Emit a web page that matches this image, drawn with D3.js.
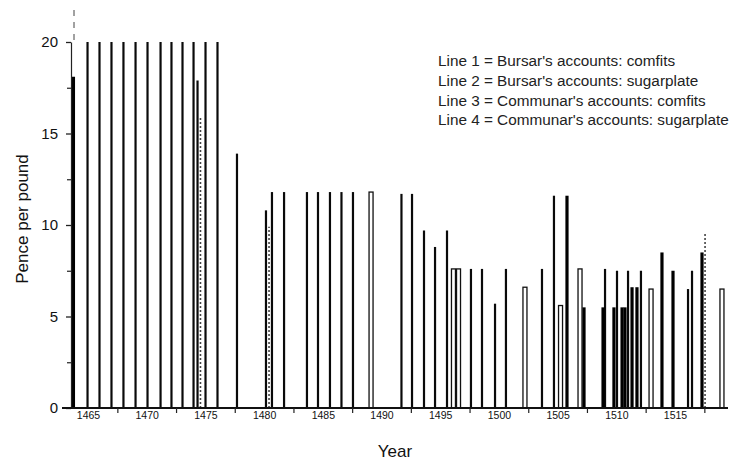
<!DOCTYPE html>
<html>
<head>
<meta charset="utf-8">
<script src="https://cdn.jsdelivr.net/npm/d3@7"></script>
<style>
  body { margin: 0; background: #fff; }
  svg { display: block; font-family: "Liberation Sans", Arial, Helvetica, sans-serif; }
</style>
</head>
<body>
<svg id="chart" width="732" height="460"></svg>
<script>
// ---- data (year, pence per pound) ----
const legendLabels = [
  "Line 1 = Bursar's accounts: comfits",
  "Line 2 = Bursar's accounts: sugarplate",
  "Line 3 = Communar's accounts: comfits",
  "Line 4 = Communar's accounts: sugarplate"
];
const xTickLabels = [1465, 1470, 1475, 1480, 1485, 1490, 1495, 1500, 1505, 1510, 1515];
const xMinorTicks = [1467.5, 1472.5, 1477.5, 1482.5, 1487.5, 1492.5, 1497.5, 1502.5, 1507.5, 1512.5, 1517.5];
const yTickValues = [0, 5, 10, 15, 20];
const yMinorTicks = [2.5, 7.5, 12.5, 17.5];

// Line 1: solid lines
const line1 = [
  [1464.96, 20], [1465.98, 20], [1467.0, 20], [1468.02, 20], [1469.05, 20],
  [1470.07, 20], [1471.18, 20], [1472.11, 20], [1473.05, 20], [1473.99, 20],
  [1475.01, 20], [1476.03, 20], [1474.33, 17.9], [1477.69, 13.9],
  [1480.16, 10.8], [1480.67, 11.8], [1481.7, 11.8], [1483.65, 11.8],
  [1484.59, 11.8], [1485.61, 11.8], [1486.59, 11.8], [1487.57, 11.8],
  [1491.7, 11.7], [1492.6, 11.7], [1493.62, 9.7], [1494.56, 8.8],
  [1495.58, 9.7], [1497.62, 7.6], [1498.56, 7.6], [1499.67, 5.7],
  [1500.6, 7.6], [1503.67, 7.6], [1504.69, 11.6], [1509.04, 7.6],
  [1510.06, 7.5], [1511.0, 7.5], [1512.1, 7.5], [1516.11, 6.5], [1516.45, 7.5]
];
// Line 2: dotted lines
const line2 = [
  [1474.58, 15.9], [1480.42, 9.9], [1517.56, 9.6]
];
// Line 3: outlined bars
const line3 = [
  [1489.11, 11.8], [1496.13, 7.6], [1496.56, 7.6], [1502.22, 6.6],
  [1505.25, 5.6], [1506.91, 7.6], [1512.96, 6.5], [1519.0, 6.5]
];
// Line 4: heavy lines
const line4 = [
  [1463.76, 18.1], [1505.8, 11.6], [1507.25, 5.5], [1508.87, 5.5], [1509.8, 5.5],
  [1510.49, 5.5], [1510.74, 5.5], [1511.34, 6.6], [1511.76, 6.6],
  [1513.89, 8.5], [1514.83, 7.5], [1517.3, 8.5]
];

// ---- scales ----
const svg = d3.select("#chart");
const x = d3.scaleLinear().domain([1465, 1515]).range([88, 675]);
const y = d3.scaleLinear().domain([0, 20]).range([408, 42]);
const x0 = 71;

// ---- spikes ----
const g = svg.append("g");
g.selectAll("line.l1").data(line1).join("line")
  .attr("x1", d => x(d[0])).attr("x2", d => x(d[0]))
  .attr("y1", y(0)).attr("y2", d => y(d[1]))
  .attr("stroke", "#0a0a0a").attr("stroke-width", 2.2);

g.selectAll("line.l2").data(line2).join("line")
  .attr("x1", d => x(d[0])).attr("x2", d => x(d[0]))
  .attr("y1", y(0)).attr("y2", d => y(d[1]))
  .attr("stroke", "#444").attr("stroke-width", 1.6)
  .attr("stroke-dasharray", "2,2");

g.selectAll("rect.l3").data(line3).join("rect")
  .attr("x", d => x(d[0]) - 2).attr("width", 4)
  .attr("y", d => y(d[1])).attr("height", d => y(0) - y(d[1]))
  .attr("fill", "#fff").attr("stroke", "#111").attr("stroke-width", 1.3);

g.selectAll("line.l4").data(line4).join("line")
  .attr("x1", d => x(d[0])).attr("x2", d => x(d[0]))
  .attr("y1", y(0)).attr("y2", d => y(d[1]))
  .attr("stroke", "#000").attr("stroke-width", 3.2);

// ---- y axis ----
const yAxis = d3.axisLeft(y).tickValues(yTickValues).tickSize(5).tickSizeOuter(0).tickPadding(8);
const ya = svg.append("g").attr("transform", `translate(${x0},0)`).call(yAxis);
ya.select(".domain").attr("stroke", "#222").attr("stroke-width", 1.2);
ya.selectAll(".tick line").attr("stroke", "#222").attr("stroke-width", 1.3);
ya.selectAll(".tick text").attr("font-size", 15).attr("fill", "#111")
  .attr("font-family", "Liberation Sans, Arial, sans-serif");
const yMinor = d3.axisLeft(y).tickValues(yMinorTicks).tickSize(4).tickFormat("");
const ym = svg.append("g").attr("transform", `translate(${x0},0)`).call(yMinor);
ym.select(".domain").remove();
ym.selectAll(".tick line").attr("stroke", "#222").attr("stroke-width", 1.2);
// dashed extension of the y axis above 20
svg.append("line").attr("x1", x0 + 3).attr("x2", x0 + 3)
  .attr("y1", y(20) - 2).attr("y2", 8)
  .attr("stroke", "#444").attr("stroke-width", 1).attr("stroke-dasharray", "6,6");

// ---- x axis ----
svg.append("line").attr("x1", 62).attr("x2", 728)
  .attr("y1", y(0)).attr("y2", y(0))
  .attr("stroke", "#111").attr("stroke-width", 1.8);
const xMinorAxis = d3.axisBottom(x).tickValues(xMinorTicks).tickSize(5).tickFormat("");
const xm = svg.append("g").attr("transform", `translate(0,${y(0)})`).call(xMinorAxis);
xm.select(".domain").remove();
xm.selectAll(".tick line").attr("stroke", "#222").attr("stroke-width", 1.2);
const xLabelAxis = d3.axisBottom(x).tickValues(xTickLabels).tickSize(0).tickPadding(4).tickFormat(d3.format("d"));
const xl = svg.append("g").attr("transform", `translate(0,${y(0)})`).call(xLabelAxis);
xl.select(".domain").remove();
xl.selectAll(".tick text").attr("font-size", 10.5).attr("fill", "#111")
  .attr("font-family", "Liberation Sans, Arial, sans-serif");

// ---- titles ----
svg.append("text").attr("x", 395).attr("y", 457).attr("text-anchor", "middle")
  .attr("font-size", 17).attr("fill", "#111").text("Year");
svg.append("text").attr("transform", "translate(28,219) rotate(-90)")
  .attr("text-anchor", "middle").attr("font-size", 17).attr("fill", "#111")
  .text("Pence per pound");

// ---- legend ----
svg.append("g").selectAll("text").data(legendLabels).join("text")
  .attr("x", 438).attr("y", (d, i) => 66 + i * 19.8)
  .attr("font-size", 15.3).attr("fill", "#222")
  .text(d => d);
</script>
</body>
</html>
